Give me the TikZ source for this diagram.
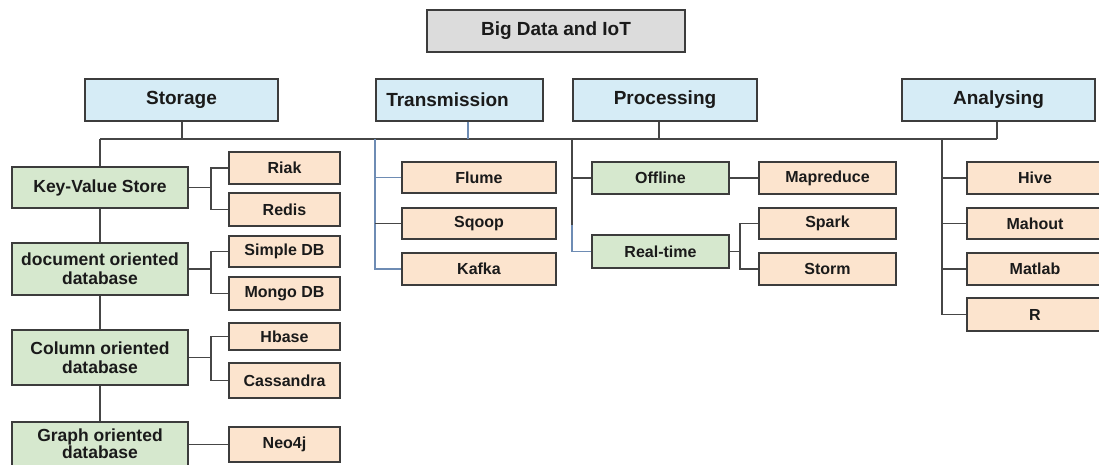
\documentclass[tikz,border=0pt]{standalone}
\usepackage{fontspec}
\setmainfont{Liberation Sans}
\definecolor{hblue}{RGB}{214,236,246}
\definecolor{sgreen}{RGB}{214,232,206}
\definecolor{lorange}{RGB}{252,228,206}
\definecolor{tgray}{RGB}{220,220,220}
\definecolor{edge}{RGB}{60,60,60}
\definecolor{wire}{RGB}{70,70,70}
\definecolor{bwire}{RGB}{110,140,180}
\definecolor{ink}{RGB}{26,26,26}
\begin{document}
\begin{tikzpicture}[x=1pt,y=-1pt,
  base/.style={draw=edge,line width=1.3pt,rectangle,inner sep=0pt,align=center,text=ink,font=\bfseries},
  titlebox/.style={base,fill=tgray,font=\fontsize{19}{21}\selectfont\bfseries},
  headbox/.style={base,fill=hblue,minimum height=42pt,font=\fontsize{19}{21}\selectfont\bfseries},
  catbox/.style={base,fill=sgreen,minimum width=176pt,font=\fontsize{17.5}{20}\selectfont\bfseries},
  subbox/.style={base,fill=sgreen,minimum width=137pt,font=\fontsize{16}{19}\selectfont\bfseries},
  leafbox/.style={base,fill=lorange,font=\fontsize{16}{19}\selectfont\bfseries},
  stleaf/.style={leafbox,minimum width=111pt},
  trleaf/.style={leafbox,minimum width=154pt,minimum height=31pt},
  prleaf/.style={leafbox,minimum width=137pt},
  anleaf/.style={leafbox,minimum width=136pt},
  wirestyle/.style={draw=wire,line width=1.4pt},
  bluewire/.style={draw=bwire,line width=1.2pt}]
\useasboundingbox (0,0) rectangle (1099,465);
\clip (0,0) rectangle (1099,465);
\fill[white] (0,0) rectangle (1099,465);

% title
\node[titlebox,minimum width=258pt,minimum height=42pt] (title) at (556,31) {Big Data and IoT};

% headers
\node[headbox,minimum width=193pt] (storage) at (181.5,100) {Storage};
\node[headbox,minimum width=167pt] (trans) at (459.5,100) {\hspace*{-24pt}Transmission};
\node[headbox,minimum width=184pt] (proc) at (665,100) {Processing};
\node[headbox,minimum width=193pt] (anal) at (998.5,100) {Analysing};

% bus
\coordinate (busL) at (100,139);
\coordinate (busR) at (997,139);
\coordinate (bS) at (182,139);
\coordinate (bT) at (468,139);
\coordinate (bP) at (659,139);
\coordinate (bA) at (997,139);
\coordinate (bTc) at (375,139);
\coordinate (bPc) at (572,139);
\coordinate (bAc) at (942,139);
\draw[wirestyle] (busL) -- (busR);
\draw[wirestyle] (storage.south -| bS) -- (bS);
\draw[bluewire] (trans.south -| bT) -- (bT);
\draw[wirestyle] (proc.south -| bP) -- (bP);
\draw[wirestyle] (anal.south -| bA) -- (bA);

% storage column
\node[catbox,minimum height=41pt] (kv) at (100,187.5) {Key-Value Store};
\node[catbox,minimum height=52pt] (doc) at (100,269) {document oriented\\[-1pt]database};
\node[catbox,minimum height=55pt] (col) at (100,357.5) {Column oriented\\[-1pt]database};
\node[catbox,minimum height=55pt] (graph) at (100,449.5) {};
\node[font=\fontsize{17.5}{19}\selectfont\bfseries,text=ink,align=center,inner sep=0pt] (graphtxt) at (100,444) {Graph oriented\\[-2pt]database};
\draw[wirestyle] (busL) -- (kv.north);
\draw[wirestyle] (kv.south) -- (doc.north);
\draw[wirestyle] (doc.south) -- (col.north);
\draw[wirestyle] (col.south) -- (graph.north);

\node[stleaf,minimum height=32pt] (riak) at (284.5,168) {Riak};
\node[stleaf,minimum height=33pt] (redis) at (284.5,209.5) {Redis};
\node[stleaf,minimum height=31pt] (simple) at (284.5,251.5) {Simple DB};
\node[stleaf,minimum height=33pt] (mongo) at (284.5,293.5) {Mongo DB};
\node[stleaf,minimum height=27pt] (hbase) at (284.5,336.5) {Hbase};
\node[stleaf,minimum height=35pt] (cass) at (284.5,380.5) {Cassandra};
\node[stleaf,minimum height=35pt] (neo) at (284.5,444.5) {Neo4j};

\coordinate (kvb) at (211,187.5);
\coordinate (docb) at (211,269);
\coordinate (colb) at (211,357.5);
\draw[wirestyle] (kv.east) -- (kvb);
\draw[wirestyle] (riak.west) -| (kvb) |- (redis.west);
\draw[wirestyle] (doc.east) -- (docb);
\draw[wirestyle] (simple.west) -| (docb) |- (mongo.west);
\draw[wirestyle] (col.east) -- (colb);
\draw[wirestyle] (hbase.west) -| (colb) |- (cass.west);
\draw[wirestyle] (graph.east |- neo.west) -- (neo.west);

% transmission
\node[trleaf] (flume) at (479,177.5) {Flume};
\node[trleaf] (sqoop) at (479,223.5) {Sqoop};
\node[trleaf,minimum height=32pt] (kafka) at (479,269) {Kafka};
\draw[bluewire] (bTc) |- (kafka.west);
\draw[bluewire] (flume.west) -- (flume.west -| bTc);
\draw[wirestyle] (sqoop.west) -- (sqoop.west -| bTc);

% processing
\node[subbox,minimum height=32pt] (off) at (660.5,178) {Offline};
\node[subbox,minimum height=33pt] (rt) at (660.5,251.5) {Real-time};
\draw[wirestyle] (bPc) -- (572,225);
\draw[bluewire] (572,225) |- (rt.west);
\draw[wirestyle] (off.west) -- (off.west -| bPc);

\node[prleaf,minimum height=32pt] (mapr) at (827.5,178) {Mapreduce};
\node[prleaf,minimum height=31pt] (spark) at (827.5,223.5) {Spark};
\node[prleaf,minimum height=32pt] (storm) at (827.5,269) {Storm};
\coordinate (rtb) at (740,251.5);
\draw[wirestyle] (off.east) -- (mapr.west);
\draw[wirestyle] (rt.east) -- (rtb);
\draw[wirestyle] (spark.west) -| (rtb) |- (storm.west);

% analysing
\node[anleaf,minimum height=32pt] (hive) at (1035,178) {Hive};
\node[anleaf,minimum height=31pt] (mahout) at (1035,223.5) {Mahout};
\node[anleaf,minimum height=32pt] (matlab) at (1035,269) {Matlab};
\node[anleaf,minimum height=33pt] (r) at (1035,314.5) {R};
\draw[wirestyle] (bAc) |- (r.west);
\draw[wirestyle] (hive.west) -- (hive.west -| bAc);
\draw[wirestyle] (mahout.west) -- (mahout.west -| bAc);
\draw[wirestyle] (matlab.west) -- (matlab.west -| bAc);
\end{tikzpicture}
\end{document}
